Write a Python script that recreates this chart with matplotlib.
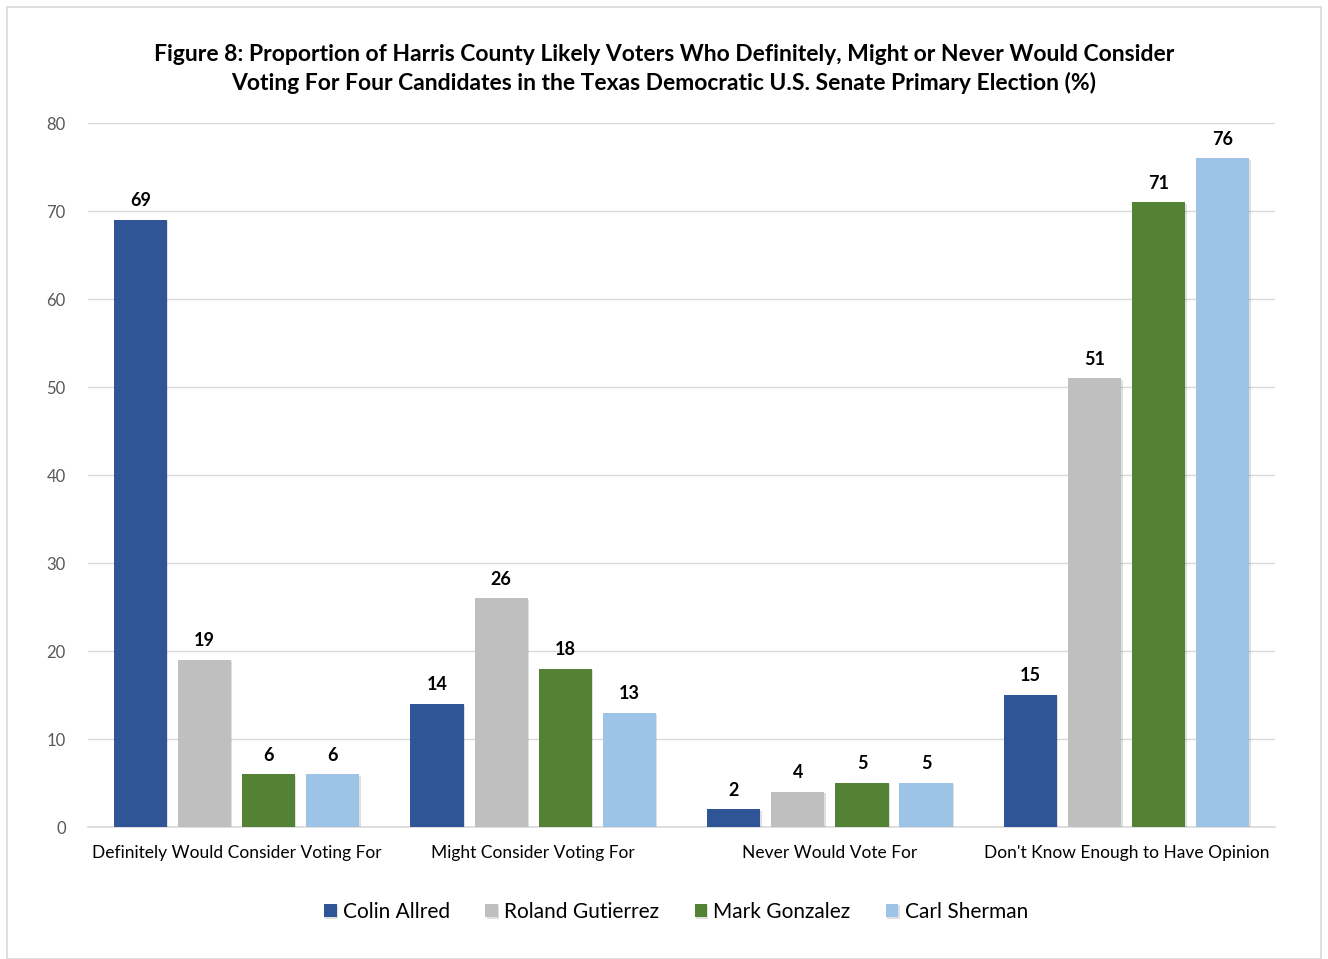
import numpy as np
import matplotlib.pyplot as plt
import matplotlib.patheffects as pe
from matplotlib.patches import Rectangle

plt.rcParams['font.family'] = ['Lato', 'DejaVu Sans']

categories = ["Definitely Would Consider Voting For", "Might Consider Voting For",
              "Never Would Vote For", "Don't Know Enough to Have Opinion"]
candidates = ["Colin Allred", "Roland Gutierrez", "Mark Gonzalez", "Carl Sherman"]
allred = [69, 14, 2, 15]
gutierrez = [19, 26, 4, 51]
gonzalez = [6, 18, 5, 71]
sherman = [6, 13, 5, 76]
series = [allred, gutierrez, gonzalez, sherman]
colors = ["#2F5597", "#BFBFBF", "#548235", "#9DC3E6"]

fig = plt.figure(figsize=(13.28, 9.59), dpi=100)
fig.patches.append(Rectangle((0.005, 0.0), 0.99, 0.993, transform=fig.transFigure,
                             fill=False, edgecolor="#D9D9D9", linewidth=1.2))
ax = fig.add_axes([0.0663, 0.1376, 0.8938, 0.7341])

x = np.arange(len(categories))
width = 0.179
step = 0.216
shadow = [pe.SimplePatchShadow(offset=(1, -1), shadow_rgbFace="#000000", alpha=0.12), pe.Normal()]
for i, (vals, name, c) in enumerate(zip(series, candidates, colors)):
    pos = x + (i - 1.5) * step
    bars = ax.bar(pos, vals, width, color=c, label=name, zorder=3, path_effects=shadow)
    for b, v in zip(bars, vals):
        ax.text(b.get_x() + b.get_width() / 2, v + 1.2, str(v), ha="center", va="bottom",
                fontsize=13, fontweight="bold", color="#000000")

ax.set_xlim(-0.5, 3.5)
ax.set_ylim(0, 80)
ax.set_yticks(range(0, 81, 10))
ax.yaxis.grid(True, color="#D9D9D9", linewidth=1, zorder=0)
ax.set_axisbelow(True)
for s in ["top", "right", "left"]:
    ax.spines[s].set_visible(False)
ax.spines["bottom"].set_color("#D9D9D9")
ax.spines["bottom"].set_linewidth(1.2)
ax.tick_params(axis="y", length=0, labelsize=12, labelcolor="#595959", pad=16)
ax.tick_params(axis="x", length=0, labelsize=12.5, labelcolor="#000000", pad=13)
ax.set_xticks(x)
ax.set_xticklabels(categories)

fig.text(0.5, 0.928, "Figure 8: Proportion of Harris County Likely Voters Who Definitely, Might or Never Would Consider\n"
         "Voting For Four Candidates in the Texas Democratic U.S. Senate Primary Election (%)",
         ha="center", va="center", fontsize=16.5, fontweight="bold", linespacing=1.4)

fig.legend(loc="center", bbox_to_anchor=(0.509, 0.049), ncol=4, frameon=False, fontsize=15,
           handlelength=0.6, handleheight=0.6, handletextpad=0.3, columnspacing=1.7)

fig.savefig("out.png", dpi=100)
